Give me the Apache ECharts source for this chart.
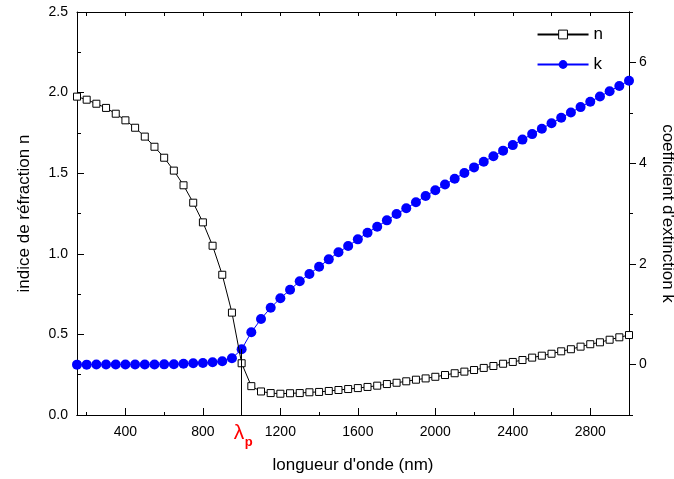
<!DOCTYPE html>
<html><head><meta charset="utf-8">
<script src="https://cdn.jsdelivr.net/npm/echarts@6/dist/echarts.min.js"></script>
<style>html,body{margin:0;padding:0;background:#fff}#c{width:674px;height:479px}</style>
</head><body><div id="c"></div>
<script>
// wavelength (nm)
const wavelengths = [150,200,250,300,350,400,450,500,550,600,650,700,750,800,850,900,950,1000,
 1050,1100,1150,1200,1250,1300,1350,1400,1450,1500,1550,1600,1650,1700,1750,1800,1850,1900,1950,2000,
 2050,2100,2150,2200,2250,2300,2350,2400,2450,2500,2550,2600,2650,2700,2750,2800,2850,2900,2950,3000];
// refractive index n (left axis)
const nValues = [1.975,1.956,1.931,1.905,1.869,1.828,1.782,1.727,1.664,1.596,1.516,1.425,1.317,1.195,1.050,0.870,0.635,0.321,
 0.179,0.146,0.136,0.132,0.135,0.136,0.141,0.143,0.149,0.155,0.161,0.167,0.174,0.182,0.192,0.200,0.209,0.219,0.227,0.237,
 0.248,0.259,0.269,0.279,0.292,0.304,0.318,0.329,0.341,0.356,0.368,0.380,0.395,0.408,0.424,0.439,0.451,0.467,0.482,0.496];
// extinction coefficient k (right axis)
const kValues = [0.000,0.000,0.001,0.001,0.002,0.002,0.003,0.003,0.004,0.005,0.006,0.018,0.026,0.032,0.046,0.066,0.125,0.304,
 0.641,0.905,1.130,1.316,1.487,1.654,1.799,1.943,2.090,2.229,2.354,2.487,2.618,2.737,2.864,2.990,3.103,3.222,3.347,3.460,
 3.575,3.690,3.803,3.915,4.027,4.138,4.248,4.358,4.467,4.576,4.684,4.792,4.899,5.006,5.112,5.218,5.323,5.428,5.532,5.636];
// ticks
const xMajorTicks = [400,800,1200,1600,2000,2400,2800];
const xMinorTicks = [200,600,1000,1400,1800,2200,2600,3000];
const kLabelTicks = [0,2,4,6];
const kMinorTicks = [-1,1,3,5,7];
const lambdaP = 1000;
const lambdaPTop = 0.41;

const FONT = 'Liberation Sans, Arial, sans-serif';
const chart = echarts.init(document.getElementById('c'), null, {renderer:'canvas'});
const ax = {show:true,onZero:false,lineStyle:{color:'#000',width:1}};
const nData = wavelengths.map((w,i)=>[w,nValues[i]]);
const kData = wavelengths.map((w,i)=>[w,kValues[i]]);
const G = {left:77,right:45,top:12,bottom:64,containLabel:false,outerBoundsMode:'none'};

chart.setOption({
  animation:false,
  backgroundColor:'#fff',
  grid:[Object.assign({},G),Object.assign({},G)],
  legend:{
    right:66, top:21, orient:'vertical', itemWidth:51, itemHeight:11, itemGap:13,
    textStyle:{fontFamily:FONT,fontSize:17,color:'#000'},
    data:[{name:'n',itemStyle:{color:'#fff',borderColor:'#000',borderWidth:1}},
          {name:'k'}]
  },
  xAxis:[
    {gridIndex:0,type:'value',position:'bottom',min:150,max:3000,
     axisLine:ax, splitLine:{show:false},
     axisTick:{show:true,inside:true,length:7,lineStyle:{color:'#000'},customValues:xMajorTicks},
     axisLabel:{customValues:xMajorTicks,formatter:v=>String(v),fontFamily:FONT,fontSize:14,color:'#000',margin:10},
     name:"longueur d'onde (nm)",nameLocation:'middle',nameGap:42,
     nameTextStyle:{fontFamily:FONT,fontSize:17,color:'#000'}},
    {gridIndex:1,type:'value',position:'bottom',min:150,max:3000,
     axisLine:ax, splitLine:{show:false},
     axisTick:{show:true,inside:true,length:3,lineStyle:{color:'#000'},customValues:xMinorTicks},
     axisLabel:{show:false}},
    {gridIndex:1,type:'value',position:'top',min:150,max:3000,
     axisLine:ax, splitLine:{show:false},
     axisTick:{show:true,inside:true,length:4,lineStyle:{color:'#000'},customValues:xMinorTicks.concat(xMajorTicks)},
     axisLabel:{show:false}}
  ],
  yAxis:[
    {gridIndex:0,type:'value',position:'left',min:0,max:2.5,interval:0.5,
     axisLine:ax, splitLine:{show:false},
     axisTick:{show:true,inside:true,length:7,lineStyle:{color:'#000'}},
     minorTick:{show:true,splitNumber:2,length:4,lineStyle:{color:'#000'}},
     minorSplitLine:{show:false},
     axisLabel:{formatter:v=>v.toFixed(1),fontFamily:FONT,fontSize:14,color:'#000',margin:9},
     name:'indice de réfraction n',nameLocation:'middle',nameGap:44,nameRotate:90,
     nameTextStyle:{fontFamily:FONT,fontSize:17,color:'#000'}},
    {gridIndex:0,type:'value',position:'right',min:-1,max:7,
     axisLine:ax, splitLine:{show:false},
     axisTick:{show:true,inside:false,length:7,lineStyle:{color:'#000'},customValues:kLabelTicks},
     axisLabel:{customValues:kLabelTicks,fontFamily:FONT,fontSize:14,color:'#000',margin:10},
     name:"coefficient d'extinction k",nameLocation:'middle',nameGap:30,nameRotate:-90,
     nameTextStyle:{fontFamily:FONT,fontSize:17,color:'#000'}},
    {gridIndex:1,type:'value',position:'right',min:-1,max:7,
     axisLine:ax, splitLine:{show:false},
     axisTick:{show:true,inside:false,length:4,lineStyle:{color:'#000'},customValues:kMinorTicks},
     axisLabel:{show:false}}
  ],
  series:[
    {name:'k',type:'line',xAxisIndex:0,yAxisIndex:1,data:kData,
     symbol:'circle',symbolSize:10,clip:false,
     itemStyle:{color:'#0000ff'},lineStyle:{color:'#0000ff',width:1},z:2},
    {name:'n',type:'line',xAxisIndex:0,yAxisIndex:0,data:nData,
     symbol:'rect',symbolSize:7,clip:false,
     itemStyle:{color:'#fff',borderColor:'#000',borderWidth:1},
     lineStyle:{color:'#000',width:1},z:3,
     markLine:{silent:true,symbol:'none',label:{show:false},
       lineStyle:{color:'#000',width:1,type:'solid'},
       data:[[{coord:[lambdaP,0]},{coord:[lambdaP,lambdaPTop]}]]}}
  ]
});

const px = chart.convertToPixel({xAxisIndex:0}, lambdaP);
chart.setOption({graphic:[
  {type:'text',x:px-8,y:423,style:{text:'λ',fontFamily:FONT,fontSize:21,fill:'#ff0000'}},
  {type:'text',x:px+3,y:436,style:{text:'p',fontFamily:FONT,fontSize:13,fontWeight:'bold',fill:'#ff0000'}}
]});
</script></body></html>
